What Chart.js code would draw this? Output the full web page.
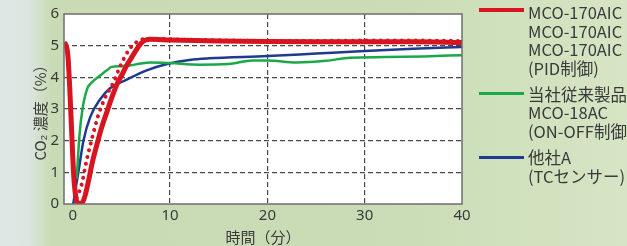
<!DOCTYPE html>
<html>
<head>
<meta charset="utf-8">
<script src="https://cdn.jsdelivr.net/npm/chart.js@4"></script>
<style>
  html, body { margin: 0; padding: 0; }
  body {
    width: 627px; height: 246px; overflow: hidden;
    background: linear-gradient(90deg, #dfe7e5 0px, #dce6e0 28px, #c8dbb4 52px, #c9dcb5 60%, #d6e5c4 100%);
  }
  #wrap { position: relative; width: 627px; height: 246px; }
  #legend { position: absolute; left: 0; top: 0; }
  .item { position: absolute; left: 528px; font-family: "Noto Sans CJK JP", "Noto Sans", sans-serif;
          font-size: 16.5px; line-height: 18.5px; color: #3a3a3a; white-space: nowrap; }
  .swatch { position: absolute; left: 479px; width: 45px; }
</style>
</head>
<body>
<div id="wrap">
  <canvas id="co2Chart" width="627" height="246"></canvas>
  <div id="legend"></div>
</div>
<script>
// Series values (x = minutes, y = CO2 %)
const redX = [-0.9, -0.7, -0.5, -0.3, -0.1, 0.1, 0.3, 0.5, 0.7, 1.0, 1.3, 1.6, 2.0, 2.5, 3.0, 3.5, 4.0, 4.5, 5.0, 5.5, 6.0, 6.5, 7.0, 7.5, 8.0, 10, 15, 20, 25, 30, 35, 40];
const redY = [5.1, 5.02, 4.7, 3.6, 2.2, 0.9, 0.25, 0.04, 0.02, 0.05, 0.3, 0.7, 1.3, 1.9, 2.45, 2.9, 3.35, 3.75, 4.05, 4.35, 4.6, 4.85, 5.07, 5.18, 5.2, 5.18, 5.15, 5.13, 5.12, 5.12, 5.12, 5.1];

const dotX = [0.4, 0.9, 1.4, 2.0, 2.6, 3.3, 4.2, 4.9, 5.8, 6.5, 7.1, 8, 10, 15, 20, 25, 30, 35, 40];
const dotY = [0.2, 0.6, 1.35, 2.1, 2.78, 3.34, 3.85, 4.37, 4.88, 5.1, 5.2, 5.22, 5.2, 5.17, 5.15, 5.15, 5.16, 5.16, 5.15];

const greenX = [0.4, 0.7, 1.0, 1.5, 2.0, 2.8, 3.5, 4.0, 5.0, 6.0, 7.0, 8.0, 10, 13, 16, 18.5, 20, 23, 26, 28.5, 32, 36, 40];
const greenY = [0.8, 2.2, 3.0, 3.65, 3.85, 4.05, 4.22, 4.33, 4.35, 4.38, 4.44, 4.47, 4.45, 4.4, 4.42, 4.53, 4.53, 4.47, 4.52, 4.62, 4.64, 4.66, 4.7];

const blueX = [0.05, 0.3, 0.6, 1.1, 1.8, 2.8, 3.8, 5.5, 7.6, 9.7, 12, 14, 20, 25, 30, 35, 40];
const blueY = [0.0, 0.5, 1.05, 2.0, 2.75, 3.3, 3.65, 3.92, 4.22, 4.42, 4.55, 4.6, 4.67, 4.75, 4.83, 4.9, 4.96];

const xTicks = [0, 10, 20, 30, 40];
const yTicks = [0, 1, 2, 3, 4, 5, 6];

const legendItems = [
    { color: "#d7141f", width: 4.5, top: 10, lines: ["MCO-170AIC", "MCO-170AIC", "MCO-170AIC", "(PID制御)"], textTop: 3 },
    { color: "#1aa84a", width: 3, top: 93.5, lines: ["当社従来製品", "MCO-18AC", "(ON-OFF制御)"], textTop: 84.5 },
    { color: "#1f3a8f", width: 3, top: 157, lines: ["他社A", "(TCセンサー)"], textTop: 148 }
];

function pts(xs, ys) {
    return xs.map(function(x, i) { return { x: x, y: ys[i] }; });
}

// White plot area + solid frame
const frame = {
    id: "frame",
    beforeDraw(chart) {
        const a = chart.chartArea, ctx = chart.ctx;
        ctx.save();
        ctx.fillStyle = "#ffffff";
        ctx.fillRect(a.left, a.top, a.right - a.left, a.bottom - a.top);
        ctx.restore();
    },
    afterDraw(chart) {
        const a = chart.chartArea, ctx = chart.ctx;
        ctx.save();
        ctx.strokeStyle = "#6e6e6e";
        ctx.lineWidth = 1.5;
        ctx.strokeRect(a.left, a.top, a.right - a.left, a.bottom - a.top);
        ctx.restore();
    }
};

const font = { family: '"Noto Sans", "Noto Sans CJK JP", sans-serif', size: 15 };

new Chart(document.getElementById("co2Chart").getContext("2d"), {
    type: "line",
    data: {
        datasets: [
            {
                data: pts(redX, redY),
                borderColor: "#d7141f",
                borderWidth: 5,
                pointRadius: 0,
                cubicInterpolationMode: "monotone",
            },
            {
                data: pts(dotX, dotY),
                borderColor: "#d7141f",
                borderWidth: 4,
                borderDash: [0.01, 7],
                borderCapStyle: "round",
                pointRadius: 0,
                cubicInterpolationMode: "monotone",
            },
            {
                data: pts(greenX, greenY),
                borderColor: "#1aa84a",
                borderWidth: 2.5,
                pointRadius: 0,
                cubicInterpolationMode: "monotone",
            },
            {
                data: pts(blueX, blueY),
                borderColor: "#1f3a8f",
                borderWidth: 2.5,
                pointRadius: 0,
                cubicInterpolationMode: "monotone",
            },
        ],
    },
    options: {
        responsive: false,
        animation: false,
        layout: { padding: { top: 9, right: 165, left: 0, bottom: 0 } },
        plugins: { legend: { display: false }, tooltip: { enabled: false } },
        scales: {
            x: {
                type: "linear",
                min: -0.9,
                max: 40,
                afterBuildTicks: function(scale) { scale.ticks = xTicks.map(function(v) { return { value: v }; }); },
                afterFit: function(scale) { scale.height = 42; },
                grid: {
                    color: function(c) { return (c.tick && (c.tick.value === 10 || c.tick.value === 20 || c.tick.value === 30)) ? "#4a4a4a" : "rgba(0,0,0,0)"; },
                    lineWidth: 1.2,
                    drawTicks: false,
                },
                border: { display: false, dash: [5, 3] },
                ticks: { color: "#3a3a3a", font: font, padding: 3 },
                title: {
                    display: true,
                    text: "時間（分）",
                    color: "#3a3a3a",
                    font: { family: '"Noto Sans CJK JP", sans-serif', size: 15 },
                    padding: { top: 0, bottom: 0 },
                },
            },
            y: {
                min: 0,
                max: 6,
                afterBuildTicks: function(scale) { scale.ticks = yTicks.map(function(v) { return { value: v }; }); },
                afterFit: function(scale) { scale.width = 64; },
                grid: {
                    color: function(c) { return (c.tick && c.tick.value > 0 && c.tick.value < 6) ? "#4a4a4a" : "rgba(0,0,0,0)"; },
                    lineWidth: 1.2,
                    drawTicks: false,
                },
                border: { display: false, dash: [5, 3] },
                ticks: { color: "#3a3a3a", font: font, padding: 5 },
                title: {
                    display: true,
                    text: "CO₂ 濃度（%）",
                    color: "#3a3a3a",
                    font: { family: '"Noto Sans CJK JP", sans-serif', size: 15 },
                    padding: { top: 31, bottom: 0 },
                },
            },
        },
    },
    plugins: [frame],
});

// Legend as HTML text
const legendDiv = document.getElementById("legend");
legendItems.forEach(function(item) {
    const sw = document.createElement("div");
    sw.className = "swatch";
    sw.style.top = (item.top - item.width / 2) + "px";
    sw.style.height = item.width + "px";
    sw.style.background = item.color;
    legendDiv.appendChild(sw);
    const txt = document.createElement("div");
    txt.className = "item";
    txt.style.top = item.textTop + "px";
    txt.innerHTML = item.lines.join("<br>");
    legendDiv.appendChild(txt);
});
</script>
</body>
</html>
